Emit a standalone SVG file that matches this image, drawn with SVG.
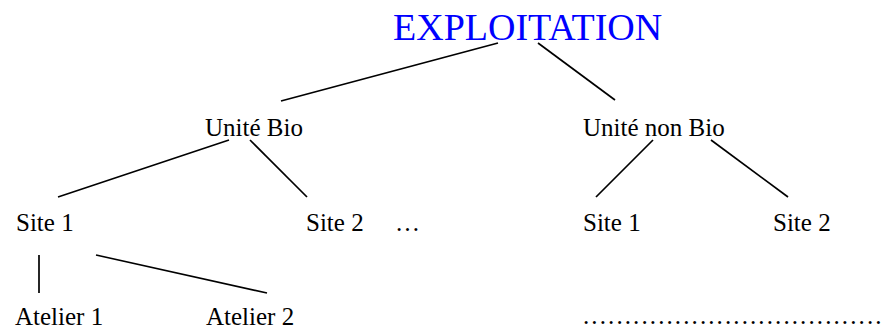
<svg xmlns="http://www.w3.org/2000/svg" width="889" height="335" viewBox="0 0 889 335">
<style>
text{font-family:"Liberation Serif","Times New Roman",serif;font-size:25px;fill:#000}
.title{font-size:38px;fill:#0000ff}
.conn line{stroke:#000;stroke-width:1.7;fill:none}
</style>
<rect width="889" height="335" fill="#fff"/>
<g class="conn" id="connectors">
<line x1="498" y1="43" x2="281" y2="101"/>
<line x1="538" y1="43" x2="615" y2="100"/>
<line x1="229" y1="140" x2="58" y2="197"/>
<line x1="250" y1="140" x2="307" y2="197"/>
<line x1="653" y1="140" x2="596" y2="197"/>
<line x1="711" y1="140" x2="788" y2="197"/>
<line x1="39" y1="255" x2="39" y2="293"/>
<line x1="96" y1="255" x2="267" y2="293"/>
</g>
<g id="exploitation"><text class="title" x="393" y="40">EXPLOITATION</text></g>
<g id="unite-bio"><text x="205" y="136">Unité Bio</text></g>
<g id="unite-non-bio"><text x="583" y="136">Unité non Bio</text></g>
<g id="site1-bio"><text x="16" y="231">Site 1</text></g>
<g id="site2-bio"><text x="306" y="231">Site 2</text></g>
<g id="ellipsis"><text x="395" y="231">…</text></g>
<g id="site1-nonbio"><text x="583" y="231">Site 1</text></g>
<g id="site2-nonbio"><text x="773" y="231">Site 2</text></g>
<g id="atelier1"><text x="15" y="325">Atelier 1</text></g>
<g id="atelier2"><text x="206" y="325">Atelier 2</text></g>
<g id="dots"><text x="583" y="324" style="letter-spacing:2.1px">....................................</text></g>
</svg>
